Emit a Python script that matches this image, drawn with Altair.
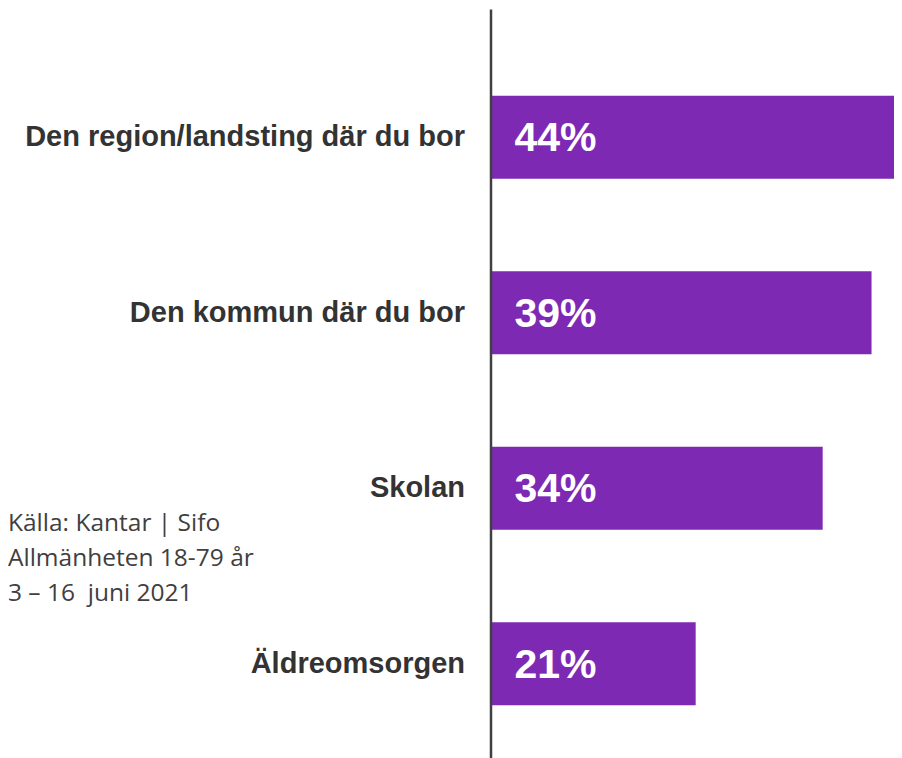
import altair as alt
import pandas as pd

categories = ["Den region/landsting där du bor", "Den kommun där du bor", "Skolan", "Äldreomsorgen"]
values = [44, 39, 34, 21]
labels = ["44%", "39%", "34%", "21%"]
source_lines = ["Källa: Kantar | Sifo", "Allmänheten 18-79 år", "3 – 16 \u00a0juni 2021"]

df = pd.DataFrame({"cat": categories, "val": values, "lab": labels})

PURPLE = "#7E29B4"
PLOT_W = 403.5
PLOT_H = 749
x_scale = alt.Scale(domain=[0, PLOT_W / 9.77], nice=False, zero=True)
y_scale = alt.Scale(paddingInner=0.527, paddingOuter=0.3974, align=0.6215)

y_enc = alt.Y(
    "cat:N", sort=categories, title=None, scale=y_scale,
    axis=alt.Axis(
        domainColor="#404040", domainWidth=2.5, ticks=False, tickSize=0,
        labelFont="Liberation Sans", labelFontWeight="bold", labelFontSize=29,
        labelColor="#333333", labelPadding=26, labelLimit=0, zindex=1,
    ),
)

base = alt.Chart(df)
bars = base.mark_bar(color=PURPLE, clip=True).encode(
    x=alt.X("val:Q", scale=x_scale, axis=None), y=y_enc
)
text = base.mark_text(
    align="left", baseline="middle", dx=24, dy=2,
    font="Liberation Sans", fontWeight="bold", fontSize=41, color="white",
).encode(x=alt.datum(0), y=alt.Y("cat:N", sort=categories), text="lab:N")

source = alt.Chart(pd.DataFrame({"a": [0]})).mark_text(
    text=source_lines, align="left", baseline="alphabetic", lineHeight=35,
    font="Open Sans", fontSize=24.5, color="#404040",
).encode(x=alt.value(-482.5), y=alt.value(522))

chart = alt.layer(bars, text, source).properties(
    width=PLOT_W, height=PLOT_H,
    autosize=alt.AutoSizeParams(type="none"),
    padding={"left": 482.5, "top": 1, "right": 0, "bottom": 0},
    background="white",
).configure_view(stroke=None)

chart.save("out.html", embed_options={"renderer": "svg", "actions": False})
